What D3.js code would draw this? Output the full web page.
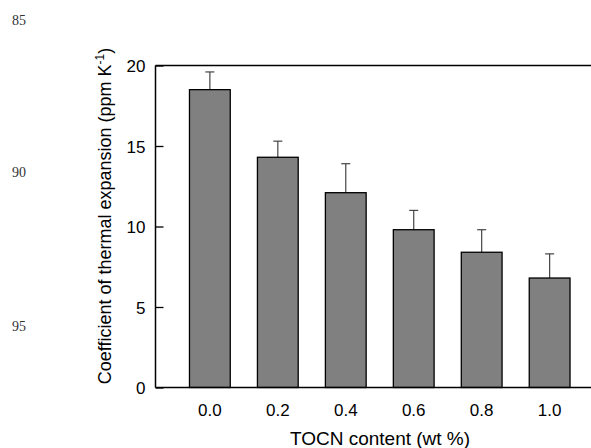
<!DOCTYPE html>
<html>
<head>
<meta charset="utf-8">
<script src="https://cdn.jsdelivr.net/npm/d3@7"></script>
<style>
  html, body { margin: 0; padding: 0; background: #fff; }
  svg { display: block; }
</style>
</head>
<body>
<script>
// TOCN loading (wt %) and measured CTE (ppm/K) with standard deviation
const categories = ["0.0", "0.2", "0.4", "0.6", "0.8", "1.0"];
const cteValues = [18.5, 14.3, 12.1, 9.8, 8.4, 6.8];
const cteErrors = [1.1, 1.0, 1.8, 1.2, 1.4, 1.5];
const yTicks = [0, 5, 10, 15, 20];
const lineNumbers = [
  { label: "85", y: 25 },
  { label: "90", y: 177 },
  { label: "95", y: 331 }
];

const W = 591, H = 448;
const svg = d3.select("body").append("svg").attr("width", W).attr("height", H);

const plotLeft = 155.5, plotTop = 65.5, plotBottom = 387.5;

const x = d3.scaleBand()
  .domain(categories)
  .range([plotLeft, 604])
  .paddingInner(0.4)
  .paddingOuter(0.5);

const y = d3.scaleLinear().domain([0, 20]).range([plotBottom, plotTop]);

// manuscript line numbers in the margin
svg.selectAll("text.lineno")
  .data(lineNumbers)
  .enter().append("text")
  .attr("class", "lineno")
  .attr("x", 12)
  .attr("y", d => d.y)
  .attr("font-family", "Liberation Serif, Times New Roman, serif")
  .attr("font-size", 14)
  .attr("fill", "#333")
  .text(d => d.label);

const data = categories.map((c, i) => ({ c, v: cteValues[i], e: cteErrors[i] }));

// error bars (upper only)
const eb = svg.append("g").attr("stroke", "#444").attr("stroke-width", 1.2);
eb.selectAll("line.stem").data(data).enter().append("line")
  .attr("class", "stem")
  .attr("x1", d => x(d.c) + x.bandwidth() / 2)
  .attr("x2", d => x(d.c) + x.bandwidth() / 2)
  .attr("y1", d => y(d.v))
  .attr("y2", d => y(d.v + d.e));
eb.selectAll("line.cap").data(data).enter().append("line")
  .attr("class", "cap")
  .attr("x1", d => x(d.c) + x.bandwidth() / 2 - 4.5)
  .attr("x2", d => x(d.c) + x.bandwidth() / 2 + 4.5)
  .attr("y1", d => y(d.v + d.e))
  .attr("y2", d => y(d.v + d.e));

// bars
svg.append("g").selectAll("rect").data(data).enter().append("rect")
  .attr("x", d => x(d.c))
  .attr("width", x.bandwidth())
  .attr("y", d => y(d.v))
  .attr("height", d => y(0) - y(d.v))
  .attr("fill", "#808080")
  .attr("stroke", "#000")
  .attr("stroke-width", 1.3);

// frame: left, top and bottom lines
const frame = svg.append("g").attr("stroke", "#000").attr("stroke-width", 1.5).attr("fill", "none");
frame.append("line").attr("x1", plotLeft).attr("x2", plotLeft).attr("y1", plotTop).attr("y2", plotBottom);
frame.append("line").attr("x1", plotLeft).attr("x2", W).attr("y1", plotTop).attr("y2", plotTop);
frame.append("line").attr("x1", plotLeft).attr("x2", W).attr("y1", plotBottom).attr("y2", plotBottom);

// y axis with inward ticks
const yAxis = d3.axisLeft(y).tickValues(yTicks).tickSizeInner(-8).tickSizeOuter(0).tickPadding(10);
const yg = svg.append("g").attr("transform", `translate(${plotLeft},0)`).call(yAxis);
yg.select(".domain").remove();
yg.selectAll(".tick line").attr("stroke", "#000").attr("stroke-width", 1.3);
yg.selectAll(".tick text")
  .attr("font-family", "Liberation Sans, Arial, sans-serif")
  .attr("font-size", 17)
  .attr("fill", "#000")
  .attr("dy", "0.36em");

// x axis labels (no tick marks)
const xAxis = d3.axisBottom(x).tickSize(0).tickPadding(16);
const xg = svg.append("g").attr("transform", `translate(0,${plotBottom})`).call(xAxis);
xg.select(".domain").remove();
xg.selectAll(".tick text")
  .attr("font-family", "Liberation Sans, Arial, sans-serif")
  .attr("font-size", 17)
  .attr("fill", "#000");

// axis titles
svg.append("text")
  .attr("x", 380)
  .attr("y", 445)
  .attr("text-anchor", "middle")
  .attr("font-family", "Liberation Sans, Arial, sans-serif")
  .attr("font-size", 19)
  .attr("fill", "#000")
  .text("TOCN content (wt %)");

const yt = svg.append("text")
  .attr("transform", "translate(111,216) rotate(-90)")
  .attr("text-anchor", "middle")
  .attr("font-family", "Liberation Sans, Arial, sans-serif")
  .attr("font-size", 18)
  .attr("fill", "#000");
yt.append("tspan").text("Coefficient of thermal expansion (ppm K");
yt.append("tspan").attr("font-size", 12).attr("dy", -7).text("-1");
yt.append("tspan").attr("dy", 7).text(")");
</script>
</body>
</html>
